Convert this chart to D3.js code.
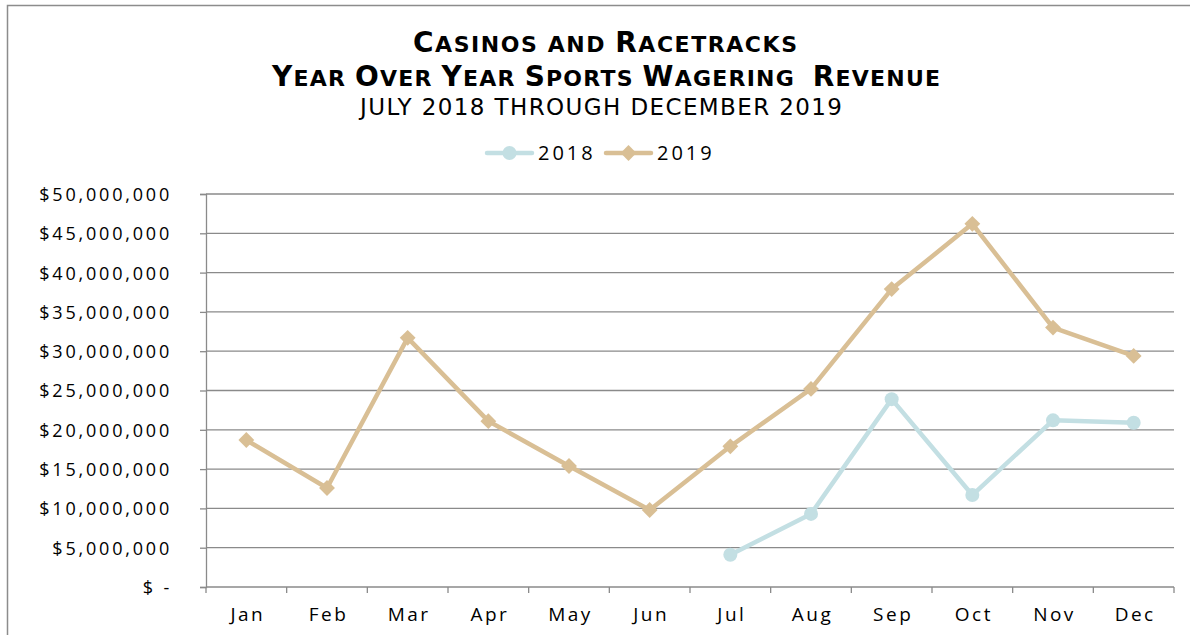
<!DOCTYPE html>
<html>
<head>
<meta charset="utf-8">
<script src="https://cdn.jsdelivr.net/npm/d3@7"></script>
<style>
  body { margin: 0; background: #fff; }
  svg { display: block; font-family: 'Open Sans', 'DejaVu Sans', sans-serif; }
</style>
</head>
<body>
<svg width="1190" height="635"></svg>
<script>
const months = ['Jan', 'Feb', 'Mar', 'Apr', 'May', 'Jun', 'Jul', 'Aug', 'Sep', 'Oct', 'Nov', 'Dec'];
// 2018 starts in July
const rev2018 = [null, null, null, null, null, null, 4100000, 9300000, 23900000, 11700000, 21200000, 20900000];
const rev2019 = [18700000, 12600000, 31700000, 21100000, 15400000, 9800000, 17900000, 25200000, 37900000, 46200000, 33000000, 29400000];
const yTicks = [0, 5e6, 10e6, 15e6, 20e6, 25e6, 30e6, 35e6, 40e6, 45e6, 50e6];

const series = [
  { name: '2018', values: rev2018, color: '#c3dfe3', marker: 'circle' },
  { name: '2019', values: rev2019, color: '#d9bf95', marker: 'diamond' },
];

const svg = d3.select('svg');
const margin = { left: 206, right: 1174, top: 194, bottom: 587 };

// outer frame
svg.append('rect')
  .attr('x', 7.5).attr('y', 5.5)
  .attr('width', 1200).attr('height', 700)
  .attr('fill', 'none').attr('stroke', '#8c8c8c').attr('stroke-width', 1.5);

const x = d3.scaleBand().domain(months).range([margin.left, margin.right]);
const y = d3.scaleLinear().domain([0, 50e6]).range([margin.bottom, margin.top]);

// title: hand-made small caps (capitals full size, lowercase as smaller capitals)
function smallCaps(sel, str, big, small) {
  str.split(/(\s+)/).forEach((word) => {
    if (!word) return;
    if (/^\s+$/.test(word)) {
      sel.append('tspan').style('font-size', small + 'px').text(word);
      return;
    }
    word.match(/[A-Z]+|[^A-Z]+/g).forEach((part) => {
      const upper = /^[A-Z]+$/.test(part);
      sel.append('tspan')
        .style('font-size', (upper ? big : small) + 'px')
        .text(part.toUpperCase());
    });
  });
}

const title = svg.append('g')
  .attr('text-anchor', 'middle').attr('fill', '#000')
  .style('font-family', "'DejaVu Sans', sans-serif");
const t1 = title.append('text')
  .attr('x', 605).attr('y', 52)
  .attr('textLength', 384).attr('lengthAdjust', 'spacing')
  .style('font-weight', 'bold').style('white-space', 'pre');
smallCaps(t1, 'Casinos and Racetracks', 28, 22);
const t2 = title.append('text')
  .attr('x', 606).attr('y', 86)
  .attr('textLength', 668).attr('lengthAdjust', 'spacing')
  .style('font-weight', 'bold').style('white-space', 'pre');
smallCaps(t2, 'Year Over Year Sports Wagering  Revenue', 28, 22);
title.append('text')
  .attr('x', 601).attr('y', 115)
  .attr('textLength', 482).attr('lengthAdjust', 'spacing')
  .style('font-size', '23px')
  .text('JULY 2018 THROUGH DECEMBER 2019');

// gridlines
svg.append('g')
  .selectAll('line')
  .data(yTicks.filter(d => d > 0))
  .join('line')
  .attr('x1', margin.left).attr('x2', margin.right)
  .attr('y1', d => y(d)).attr('y2', d => y(d))
  .attr('stroke', '#8a8a8a').attr('stroke-width', 1.3);

const fmt = d => (d === 0 ? '$ -' : '$' + d3.format(',')(d));

const yAxis = svg.append('g')
  .attr('transform', `translate(${margin.left},0)`)
  .call(d3.axisLeft(y).tickValues(yTicks).tickSize(6).tickPadding(28).tickFormat(fmt));
yAxis.select('.domain').attr('stroke', '#8a8a8a').attr('stroke-width', 1.3);
yAxis.selectAll('.tick line').attr('stroke', '#8a8a8a').attr('stroke-width', 1.3);
yAxis.selectAll('text')
  .style('font-size', '18px').style('letter-spacing', '2.8px')
  .attr('dy', '0.36em')
  .attr('fill', '#000').style('font-family', "'Open Sans', 'DejaVu Sans', sans-serif");

// x axis with ticks at band boundaries
const xg = svg.append('g');
xg.append('line')
  .attr('x1', margin.left).attr('x2', margin.right)
  .attr('y1', margin.bottom).attr('y2', margin.bottom)
  .attr('stroke', '#8a8a8a').attr('stroke-width', 1.3);
const bounds = months.map(m => x(m)).concat([margin.right]);
xg.selectAll('line.tk')
  .data(bounds)
  .join('line')
  .attr('class', 'tk')
  .attr('x1', d => d).attr('x2', d => d)
  .attr('y1', margin.bottom).attr('y2', margin.bottom + 6)
  .attr('stroke', '#8a8a8a').attr('stroke-width', 1.3);
xg.selectAll('text')
  .data(months)
  .join('text')
  .attr('x', d => x(d) + x.bandwidth() / 2 + 1.5)
  .attr('y', 621)
  .attr('text-anchor', 'middle')
  .style('font-size', '19px').style('letter-spacing', '2.5px')
  .text(d => d);

// lines and markers
const line = d3.line()
  .defined(d => d.v != null)
  .x(d => x(d.m) + x.bandwidth() / 2)
  .y(d => y(d.v));

const diamond = d3.symbol().type(d3.symbolDiamond2).size(160);

series.forEach((s) => {
  const pts = s.values.map((v, i) => ({ m: months[i], v }));
  svg.append('path')
    .datum(pts)
    .attr('d', line)
    .attr('fill', 'none')
    .attr('stroke', s.color)
    .attr('stroke-width', 4.5)
    .attr('stroke-linejoin', 'round');

  const valid = pts.filter(d => d.v != null);
  if (s.marker === 'circle') {
    svg.append('g').selectAll('circle')
      .data(valid)
      .join('circle')
      .attr('cx', d => x(d.m) + x.bandwidth() / 2)
      .attr('cy', d => y(d.v))
      .attr('r', 7)
      .attr('fill', s.color);
  } else {
    svg.append('g').selectAll('path')
      .data(valid)
      .join('path')
      .attr('d', diamond)
      .attr('transform', d => `translate(${x(d.m) + x.bandwidth() / 2},${y(d.v)})`)
      .attr('fill', s.color);
  }
});

// legend
const legend = svg.append('g').attr('transform', 'translate(0,153)');
const legendPos = [487, 606];
series.forEach((s, i) => {
  const g = legend.append('g').attr('transform', `translate(${legendPos[i]},0)`);
  g.append('line')
    .attr('x1', 0).attr('x2', 45).attr('y1', 0).attr('y2', 0)
    .attr('stroke', s.color).attr('stroke-width', 4.5).attr('stroke-linecap', 'round');
  if (s.marker === 'circle') {
    g.append('circle').attr('cx', 22.5).attr('cy', 0).attr('r', 7).attr('fill', s.color);
  } else {
    g.append('path').attr('d', diamond).attr('transform', 'translate(22.5,0)').attr('fill', s.color);
  }
  g.append('text')
    .attr('x', 51).attr('y', 7)
    .style('font-size', '20px').style('letter-spacing', '3px')
    .text(s.name);
});
</script>
</body>
</html>
